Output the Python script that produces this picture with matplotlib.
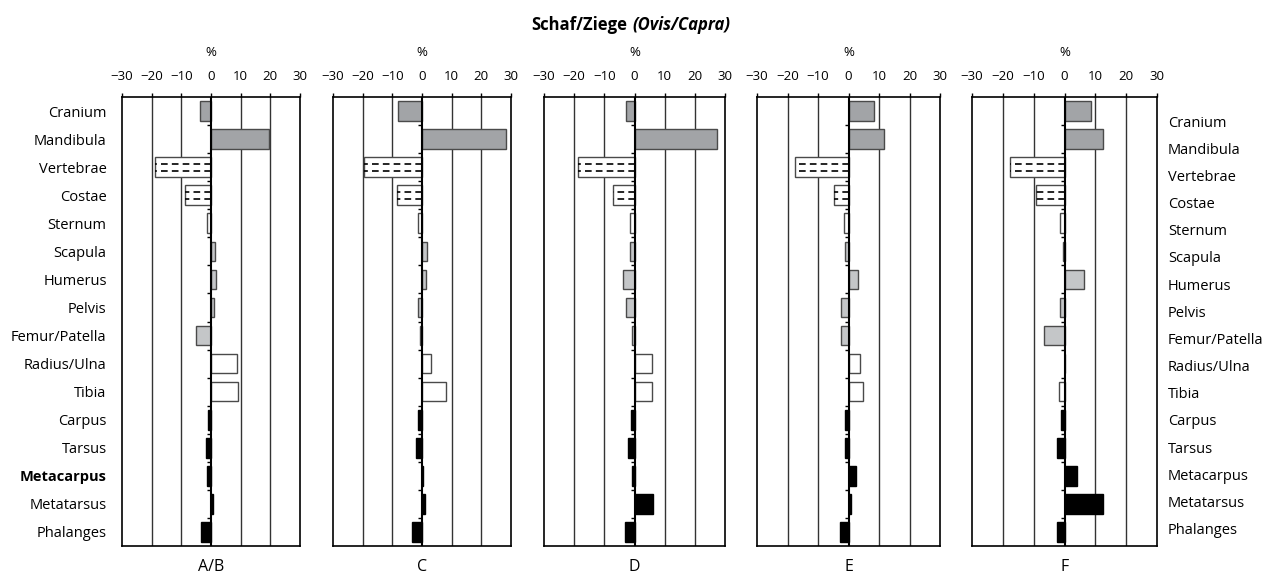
import matplotlib.pyplot as plt
import numpy as np

plt.rcParams['font.family'] = ['Open Sans', 'DejaVu Sans']

# ---------------- DATA ----------------
elements = ["Cranium", "Mandibula", "Vertebrae", "Costae", "Sternum", "Scapula",
            "Humerus", "Pelvis", "Femur/Patella", "Radius/Ulna", "Tibia",
            "Carpus", "Tarsus", "Metacarpus", "Metatarsus", "Phalanges"]

panels = ["A/B", "C", "D", "E", "F"]

vals_ab = [-3.8, 19.6, -18.9, -8.8, -1.5, 1.5, 1.8, 1.0, -5.2, 8.7, 9.2, -1.1, -1.8, -1.3, 0.6, -3.4]
vals_c = [-8.1, 28.3, -19.6, -8.5, -1.5, 1.6, 1.5, -1.5, -0.6, 2.9, 8.0, -1.2, -2.0, 0.4, 0.9, -3.4]
vals_d = [-2.8, 27.3, -18.6, -7.2, -1.4, -1.4, -3.8, -2.8, -0.7, 5.7, 5.7, -1.1, -2.1, -0.8, 6.0, -3.2]
vals_e = [8.3, 11.6, -17.5, -4.9, -1.4, -1.1, 3.1, -2.3, -2.3, 3.8, 4.9, -1.1, -1.1, 2.3, 0.9, -2.8]
vals_f = [8.7, 12.6, -17.7, -9.4, -1.3, -0.6, 6.3, -1.5, -6.7, 0.0, -1.9, -1.1, -2.3, 4.0, 12.6, -2.5]

# body region group of each element
groups = ["head", "head", "trunk", "trunk", "white", "limb", "limb", "limb", "limb",
          "white", "white", "foot", "foot", "foot", "foot", "foot"]

# ---------------- STYLE ----------------
fill = {"head": "#a2a4a7", "trunk": "white", "white": "white", "limb": "#c4c6c8", "foot": "black"}
edge = {"head": "#4a4a4a", "trunk": "#4a4a4a", "white": "#4a4a4a", "limb": "#4a4a4a", "foot": "black"}

# pixel boxes of the five panels (left, width)
boxes = [(122, 178), (333, 178), (544, 181), (757, 183), (972, 185)]
W, H = 1264, 576
top_px, bot_px = 97, 546

fig = plt.figure(figsize=(W / 100, H / 100), dpi=100)

all_vals = [vals_ab, vals_c, vals_d, vals_e, vals_f]
y = np.arange(len(elements))

for k, (name, vals) in enumerate(zip(panels, all_vals)):
    left, width = boxes[k]
    ax = fig.add_axes([left / W, 1 - bot_px / H, width / W, (bot_px - top_px) / H])
    ax.set_xlim(-30, 30)
    ax.set_ylim(len(elements) - 0.5, -0.5)

    for gx in [-20, -10, 10, 20]:
        ax.axvline(gx, color="#333333", lw=1.0, zorder=1)

    ax.barh(y, vals, height=0.7,
            color=[fill[g] for g in groups],
            edgecolor=[edge[g] for g in groups],
            linewidth=1.0, zorder=3)

    # dashed hatch for vertebrae and costae
    for i, g in enumerate(groups):
        if g == "trunk":
            ax.hlines([y[i] - 0.13, y[i] + 0.13], 0, vals[i], colors="black",
                      linestyles=(0, (4, 2.5)), lw=1.2, zorder=4)

    ax.axvline(0, color="black", lw=1.5, zorder=5)
    ax.hlines(y[:-1] + 0.5, -1.2, 0, colors="black", lw=1.0, zorder=5)

    for s in ax.spines.values():
        s.set_linewidth(1.2)

    ax.xaxis.tick_top()
    ax.set_xticks([-30, -20, -10, 0, 10, 20, 30])
    ax.set_xticklabels(["\u221230", "\u221220", "\u221210", "0", "10", "20", "30"], fontsize=9.5)
    ax.tick_params(axis="x", length=3, width=1, pad=7)

    ax.text(0, 1.1, "%", transform=ax.get_xaxis_transform(), ha="center", va="center", fontsize=9.5)
    ax.text(0.5, -0.047, name, transform=ax.transAxes, ha="center", va="center", fontsize=11.5)

    if k == 0:
        ax.set_yticks(y)
        ax.set_yticklabels(elements, fontsize=10.5)
        ax.tick_params(axis="y", length=0, pad=11)
        ax.get_yticklabels()[elements.index("Metacarpus")].set_fontweight("bold")
    else:
        ax.set_yticks([])

    if k == len(panels) - 1:
        ax2 = ax.twinx()
        ax2.set_ylim(15.64, -0.89)
        ax2.set_yticks(y)
        ax2.set_yticklabels(elements, fontsize=10.5)
        ax2.tick_params(axis="y", length=0, pad=8)
        for s in ax2.spines.values():
            s.set_visible(False)

fig.text(627 / W, 1 - 25 / H, "Schaf/Ziege", ha="right", va="center", fontsize=12, fontweight="bold")
fig.text(632 / W, 1 - 25 / H, "(Ovis/Capra)", ha="left", va="center", fontsize=12,
         fontweight="bold", fontstyle="italic")

fig.savefig("out.png", dpi=100)
